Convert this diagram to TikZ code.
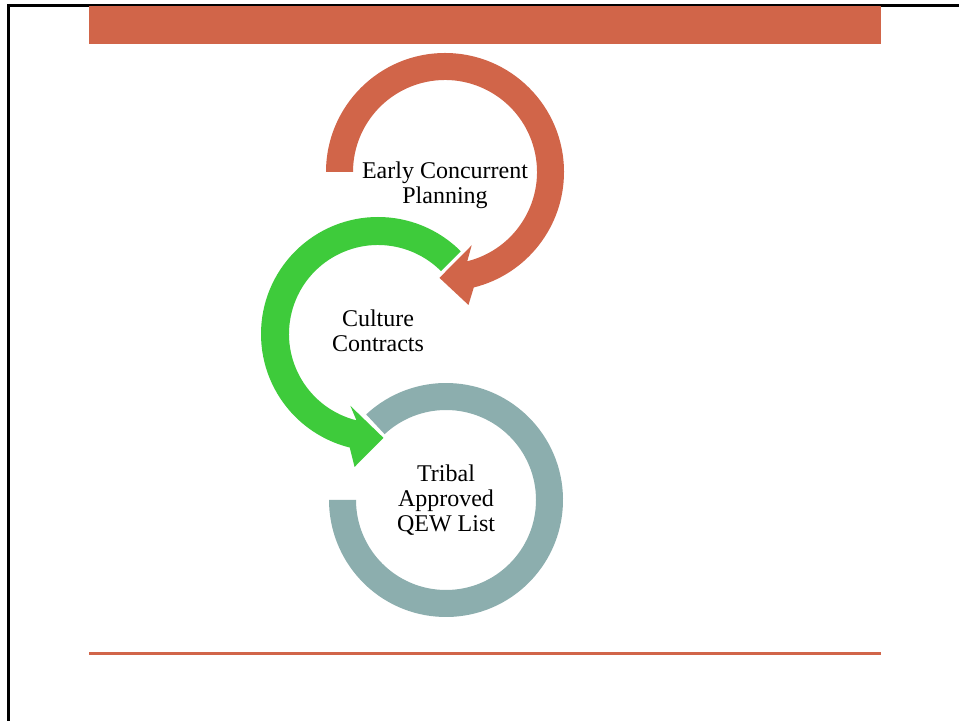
\documentclass[tikz,border=0pt]{standalone}
\usepackage{fontspec}
\setmainfont{Liberation Serif}
\definecolor{rust}{HTML}{D16549}
\definecolor{leaf}{HTML}{3ECB3B}
\definecolor{slate}{HTML}{8CAEAE}
\begin{document}
\begin{tikzpicture}[x=0.75pt,y=0.75pt,
  label text/.style={align=center, font=\fontsize{18}{18.75}\selectfont, inner sep=0pt},
  ring/.style={preaction={draw=white, line width=3pt}}]
\useasboundingbox (0,0) rectangle (959,721);
\fill[white] (0,0) rectangle (959,721);

% slide frame
\draw[black, line width=1.9pt] (7,715.75) -- (959,715.75);
\draw[black, line width=1.9pt] (8.25,717) -- (8.25,0);

% header bar and footer rule
\fill[rust] (89,677) rectangle (881,715);
\fill[rust] (89,66) rectangle (881,69);

% third ring (no head)
\begin{scope}[shift={(446,221)}]
  \fill[slate, ring] (133:117) arc[start angle=133, end angle=-180, radius=117]
    -- (180:90) arc[start angle=-180, end angle=133, radius=90] -- cycle;
  \node[label text] (qew) at (0,0) {Tribal\\Approved\\QEW List};
\end{scope}

% second arrow, counter-clockwise
\begin{scope}[shift={(378,387)}]
  \fill[leaf, ring] (45:117) arc[start angle=45, end angle=256, radius=117]
    -- (260:135) -- (273:104) -- (249:77)
    -- (256:89) arc[start angle=256, end angle=45, radius=89] -- cycle;
  \node[label text] (cc) at (0,3) {Culture\\Contracts};
\end{scope}

% first arrow, clockwise
\begin{scope}[shift={(445,549)}]
  \fill[rust, ring] (180:119) arc[start angle=180, end angle=-76, radius=119]
    -- (-80:135) -- (-93:106) -- (-70:78)
    -- (-76:92) arc[start angle=-76, end angle=180, radius=92] -- cycle;
  \node[label text] (ecp) at (0,-13) {Early Concurrent\\Planning};
\end{scope}
\end{tikzpicture}
\end{document}
